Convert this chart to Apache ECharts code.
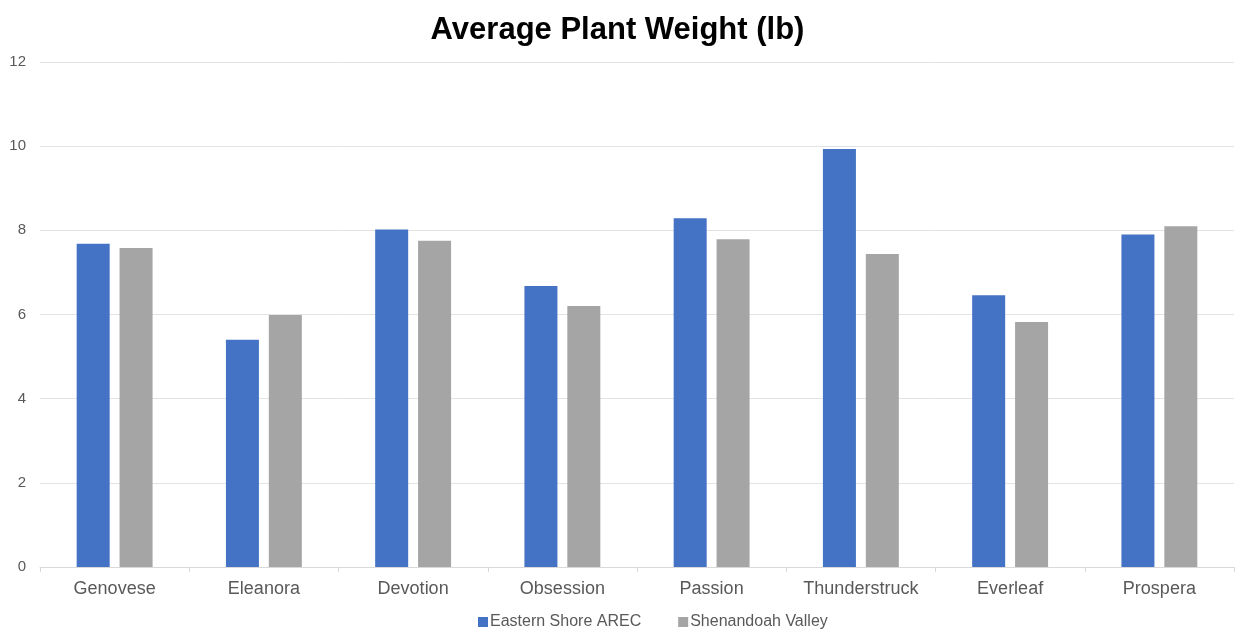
<!DOCTYPE html>
<html>
<head>
<meta charset="utf-8">
<script src="https://cdn.jsdelivr.net/npm/echarts@6/dist/echarts.min.js"></script>
<style>
  html, body { margin: 0; padding: 0; background: #fff; }
  #main { width: 1235px; height: 635px; }
</style>
</head>
<body>
<div id="main"></div>
<script>
// categories and values
var varieties = ['Genovese', 'Eleanora', 'Devotion', 'Obsession', 'Passion', 'Thunderstruck', 'Everleaf', 'Prospera'];
var easternShore = [7.68, 5.40, 8.02, 6.68, 8.29, 9.93, 6.46, 7.90];
var shenandoah = [7.58, 5.99, 7.75, 6.20, 7.79, 7.44, 5.82, 8.10];
var yTicks = [0, 2, 4, 6, 8, 10, 12];

var chart = echarts.init(document.getElementById('main'));

var option = {
	animation: false,
	textStyle: { fontFamily: 'Liberation Sans, Arial, sans-serif' },
	title: {
		text: 'Average Plant Weight (lb)',
		left: 'center',
		top: 10,
		textStyle: {
			fontSize: 31,
			fontWeight: 'bold',
			color: '#000',
			fontFamily: 'Liberation Sans, Arial, sans-serif'
		}
	},
	legend: {
		data: ['Eastern Shore AREC', 'Shenandoah Valley'],
		bottom: 0,
		left: 473,
		itemWidth: 10,
		itemHeight: 10,
		itemGap: 37,
		icon: 'rect',
		textStyle: {
			fontSize: 16,
			color: '#595959',
			fontFamily: 'Liberation Sans, Arial, sans-serif',
			padding: [0, 0, 0, -3]
		}
	},
	grid: {
		left: 40,
		right: 1,
		top: 62,
		bottom: 68
	},
	xAxis: [{
		type: 'category',
		data: varieties,
		axisLine: { lineStyle: { color: '#d9d9d9', width: 1 } },
		axisTick: { show: true, interval: 0, alignWithLabel: false, length: 5, lineStyle: { color: '#d9d9d9' } },
		axisLabel: { interval: 0, fontSize: 18, color: '#595959', margin: 13 },
		splitLine: { show: false }
	}],
	yAxis: [{
		type: 'value',
		min: yTicks[0],
		max: yTicks[yTicks.length - 1],
		interval: 2,
		axisLine: { show: false },
		axisTick: { show: false },
		axisLabel: { fontSize: 15, color: '#595959', margin: 14 },
		splitLine: { show: true, lineStyle: { color: '#e3e3e3', width: 1 } }
	}],
	series: [{
		name: 'Eastern Shore AREC',
		type: 'bar',
		data: easternShore,
		barWidth: 33,
		barGap: '30%',
		itemStyle: { color: '#4472c4' }
	}, {
		name: 'Shenandoah Valley',
		type: 'bar',
		data: shenandoah,
		barWidth: 33,
		itemStyle: { color: '#a5a5a5' }
	}]
};

chart.setOption(option);
</script>
</body>
</html>
